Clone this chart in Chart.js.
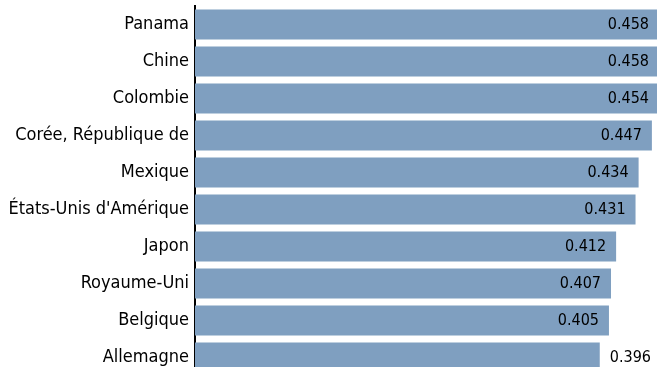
<!DOCTYPE html>
<html>
<head>
<meta charset="utf-8">
<script src="https://cdn.jsdelivr.net/npm/chart.js@4/dist/chart.umd.min.js"></script>
<style>
    html, body { margin: 0; padding: 0; background: #fff; overflow: hidden; }
    #wrap { width: 657px; height: 367px; overflow: hidden; }
</style>
</head>
<body>
<div id="wrap"><canvas id="indexChart" width="657" height="376"></canvas></div>
<script>
let countries = ["Panama", "Chine", "Colombie", "Corée, République de", "Mexique",
    "États-Unis d'Amérique", "Japon", "Royaume-Uni", "Belgique", "Allemagne"];
let values = [0.458, 0.458, 0.454, 0.447, 0.434, 0.431, 0.412, 0.407, 0.405, 0.396];

let barColor = "#7f9fc0";
let fontFamily = '"DejaVu Sans Condensed", "DejaVu Sans", sans-serif';

// value text at the end of each bar: outside when it fits, otherwise inside
const valueLabels = {
    id: 'valueLabels',
    afterDatasetsDraw(chart) {
        let ctx = chart.ctx;
        let area = chart.chartArea;
        let meta = chart.getDatasetMeta(0);
        ctx.save();
        ctx.font = '16px ' + fontFamily;
        ctx.fillStyle = "#000";
        ctx.textBaseline = "middle";
        meta.data.forEach(function (bar, i) {
            let text = values[i].toFixed(3);
            let w = ctx.measureText(text).width;
            if (bar.x + 10 + w <= area.right) {
                ctx.textAlign = "left";
                ctx.fillText(text, bar.x + 10, bar.y);
            } else {
                ctx.textAlign = "right";
                ctx.fillText(text, Math.min(bar.x - 10, area.right - 8), bar.y);
            }
        });
        ctx.restore();
    }
};

new Chart("indexChart", {
    type: "bar",
    data: {
        labels: countries,
        datasets: [{
            data: values,
            backgroundColor: barColor,
            borderWidth: 0,
            barPercentage: 0.81,
            categoryPercentage: 1
        }]
    },
    options: {
        indexAxis: 'y',
        responsive: false,
        animation: false,
        layout: { padding: { top: 6, right: 0, bottom: 0, left: 0 } },
        plugins: {
            legend: { display: false },
            tooltip: { enabled: false }
        },
        scales: {
            x: {
                display: false,
                min: 0,
                max: 0.452
            },
            y: {
                z: 1,
                grid: { display: false, drawTicks: false },
                border: { display: true, color: "#000", width: 2 },
                ticks: {
                    color: "#000",
                    padding: 6,
                    font: { family: fontFamily, size: 18 }
                },
                afterFit: function (scale) {
                    // fixed label column, no extra room above/below the bars
                    scale.width = 195;
                    scale.paddingTop = 0;
                    scale.paddingBottom = 0;
                }
            }
        }
    },
    plugins: [valueLabels]
});
</script>
</body>
</html>
